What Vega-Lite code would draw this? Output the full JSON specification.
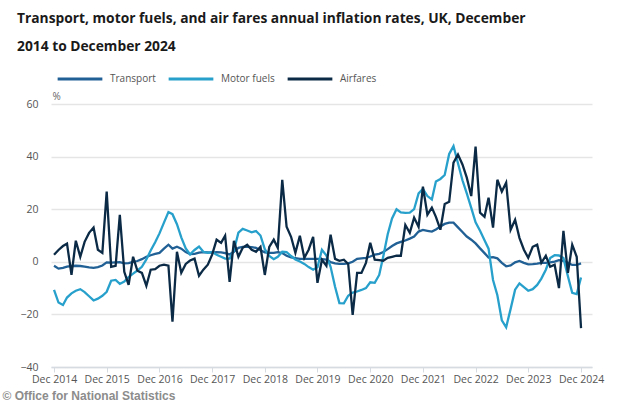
{
  "$schema": "https://vega.github.io/schema/vega-lite/v6.json",
  "width": 541,
  "height": 263,
  "autosize": {"type": "none"},
  "padding": {"left": 51, "top": 104, "right": 42, "bottom": 36},
  "background": "white",
  "config": {"font": "Open Sans", "view": {"stroke": null}},
  "title": {
    "text": ["Transport, motor fuels, and air fares annual inflation rates, UK, December", "2014 to December 2024"],
    "anchor": "start",
    "frame": "group",
    "dx": -34,
    "dy": 9,
    "font": "Open Sans",
    "fontSize": 13.8,
    "fontWeight": "bold",
    "color": "#1a1a1a",
    "lineHeight": 28,
    "baseline": "top",
    "offset": 10
  },
  "data": {
    "values": [
      {"date": "2014-12-01", "Transport": -1.5, "Motor fuels": -10.7, "Airfares": 2.7},
      {"date": "2015-01-01", "Transport": -2.6, "Motor fuels": -15.5, "Airfares": 4.5},
      {"date": "2015-02-01", "Transport": -2.3, "Motor fuels": -16.4, "Airfares": 6},
      {"date": "2015-03-01", "Transport": -1.8, "Motor fuels": -13.6, "Airfares": 6.9},
      {"date": "2015-04-01", "Transport": -1.6, "Motor fuels": -12, "Airfares": -5},
      {"date": "2015-05-01", "Transport": -1.5, "Motor fuels": -11, "Airfares": 8},
      {"date": "2015-06-01", "Transport": -1.6, "Motor fuels": -10.4, "Airfares": 1.9},
      {"date": "2015-07-01", "Transport": -1.8, "Motor fuels": -11.5, "Airfares": 7.6},
      {"date": "2015-08-01", "Transport": -2.1, "Motor fuels": -13.1, "Airfares": 11},
      {"date": "2015-09-01", "Transport": -2.3, "Motor fuels": -14.7, "Airfares": 13},
      {"date": "2015-10-01", "Transport": -2, "Motor fuels": -14, "Airfares": 4.6},
      {"date": "2015-11-01", "Transport": -1.4, "Motor fuels": -12.9, "Airfares": 3.4},
      {"date": "2015-12-01", "Transport": -0.2, "Motor fuels": -11.4, "Airfares": 26.7},
      {"date": "2016-01-01", "Transport": -0.3, "Motor fuels": -7.2, "Airfares": -1.9},
      {"date": "2016-02-01", "Transport": -0.2, "Motor fuels": -6.9, "Airfares": -1.5},
      {"date": "2016-03-01", "Transport": -0.1, "Motor fuels": -8.4, "Airfares": 17.9},
      {"date": "2016-04-01", "Transport": -0.6, "Motor fuels": -7.5, "Airfares": -3.8},
      {"date": "2016-05-01", "Transport": -0.5, "Motor fuels": -5.8, "Airfares": -8.8},
      {"date": "2016-06-01", "Transport": 0, "Motor fuels": -4.5, "Airfares": 1.9},
      {"date": "2016-07-01", "Transport": 0.3, "Motor fuels": -3.3, "Airfares": -3.4},
      {"date": "2016-08-01", "Transport": 1, "Motor fuels": -1.9, "Airfares": -4.2},
      {"date": "2016-09-01", "Transport": 1.9, "Motor fuels": 0.9, "Airfares": -9.1},
      {"date": "2016-10-01", "Transport": 2.5, "Motor fuels": 4.3, "Airfares": -3},
      {"date": "2016-11-01", "Transport": 3, "Motor fuels": 7.4, "Airfares": -2.8},
      {"date": "2016-12-01", "Transport": 3.4, "Motor fuels": 10.8, "Airfares": -1.5},
      {"date": "2017-01-01", "Transport": 5, "Motor fuels": 14.9, "Airfares": -1.1},
      {"date": "2017-02-01", "Transport": 6.5, "Motor fuels": 18.9, "Airfares": -1.5},
      {"date": "2017-03-01", "Transport": 5, "Motor fuels": 18.1, "Airfares": -22.8},
      {"date": "2017-04-01", "Transport": 5.7, "Motor fuels": 14.3, "Airfares": 3.8},
      {"date": "2017-05-01", "Transport": 5, "Motor fuels": 9.3, "Airfares": -4.2},
      {"date": "2017-06-01", "Transport": 3.7, "Motor fuels": 5.1, "Airfares": -0.8},
      {"date": "2017-07-01", "Transport": 2.9, "Motor fuels": 2.8, "Airfares": 0.5},
      {"date": "2017-08-01", "Transport": 3, "Motor fuels": 4.5, "Airfares": 1.2},
      {"date": "2017-09-01", "Transport": 3.5, "Motor fuels": 5.8, "Airfares": -5.3},
      {"date": "2017-10-01", "Transport": 3.7, "Motor fuels": 3.8, "Airfares": -3},
      {"date": "2017-11-01", "Transport": 3.6, "Motor fuels": 3.4, "Airfares": -1.1},
      {"date": "2017-12-01", "Transport": 3.5, "Motor fuels": 3.7, "Airfares": 2.7},
      {"date": "2018-01-01", "Transport": 3.7, "Motor fuels": 2.7, "Airfares": 8.4},
      {"date": "2018-02-01", "Transport": 3.6, "Motor fuels": 1.9, "Airfares": 7.2},
      {"date": "2018-03-01", "Transport": 3.3, "Motor fuels": 1.2, "Airfares": 9.9},
      {"date": "2018-04-01", "Transport": 2.8, "Motor fuels": 1.2, "Airfares": -7.6},
      {"date": "2018-05-01", "Transport": 3.8, "Motor fuels": 4.4, "Airfares": 8},
      {"date": "2018-06-01", "Transport": 5.3, "Motor fuels": 11.1, "Airfares": 1.9},
      {"date": "2018-07-01", "Transport": 5.7, "Motor fuels": 12.5, "Airfares": 5.3},
      {"date": "2018-08-01", "Transport": 5.7, "Motor fuels": 11.9, "Airfares": 6.5},
      {"date": "2018-09-01", "Transport": 5.6, "Motor fuels": 11.2, "Airfares": 4.6},
      {"date": "2018-10-01", "Transport": 5.3, "Motor fuels": 11.7, "Airfares": 3.8},
      {"date": "2018-11-01", "Transport": 4.4, "Motor fuels": 10, "Airfares": 5.7},
      {"date": "2018-12-01", "Transport": 3.6, "Motor fuels": 4.8, "Airfares": -5},
      {"date": "2019-01-01", "Transport": 3.4, "Motor fuels": 2.2, "Airfares": 5.7},
      {"date": "2019-02-01", "Transport": 3.4, "Motor fuels": 1, "Airfares": 8.4},
      {"date": "2019-03-01", "Transport": 3.7, "Motor fuels": 1.9, "Airfares": 5.3},
      {"date": "2019-04-01", "Transport": 3.3, "Motor fuels": 3.8, "Airfares": 31.2},
      {"date": "2019-05-01", "Transport": 2.3, "Motor fuels": 3.7, "Airfares": 13.3},
      {"date": "2019-06-01", "Transport": 1.7, "Motor fuels": 2.2, "Airfares": 9.5},
      {"date": "2019-07-01", "Transport": 1.4, "Motor fuels": 0.9, "Airfares": 3.4},
      {"date": "2019-08-01", "Transport": 1.1, "Motor fuels": 0.1, "Airfares": 9.9},
      {"date": "2019-09-01", "Transport": 1.1, "Motor fuels": -0.8, "Airfares": 1.5},
      {"date": "2019-10-01", "Transport": 1.1, "Motor fuels": -2, "Airfares": 4.6},
      {"date": "2019-11-01", "Transport": 1.1, "Motor fuels": -3, "Airfares": 9.5},
      {"date": "2019-12-01", "Transport": 1.1, "Motor fuels": -2.1, "Airfares": -8},
      {"date": "2020-01-01", "Transport": 1, "Motor fuels": 4.6, "Airfares": 0.8},
      {"date": "2020-02-01", "Transport": 0.8, "Motor fuels": 2.4, "Airfares": -1.5},
      {"date": "2020-03-01", "Transport": -0.1, "Motor fuels": -1.9, "Airfares": 10.3},
      {"date": "2020-04-01", "Transport": -0.6, "Motor fuels": -9.5, "Airfares": 1.1},
      {"date": "2020-05-01", "Transport": -0.8, "Motor fuels": -15.7, "Airfares": 0.4},
      {"date": "2020-06-01", "Transport": -0.8, "Motor fuels": -15.8, "Airfares": 0.8},
      {"date": "2020-07-01", "Transport": -0.6, "Motor fuels": -12.9, "Airfares": -0.8},
      {"date": "2020-08-01", "Transport": 0, "Motor fuels": -11.7, "Airfares": -20.2},
      {"date": "2020-09-01", "Transport": 1.1, "Motor fuels": -11.3, "Airfares": -4.2},
      {"date": "2020-10-01", "Transport": 1.3, "Motor fuels": -10.7, "Airfares": -4.2},
      {"date": "2020-11-01", "Transport": 1.5, "Motor fuels": -10, "Airfares": -0.4},
      {"date": "2020-12-01", "Transport": 2, "Motor fuels": -7.8, "Airfares": 7.2},
      {"date": "2021-01-01", "Transport": 2.7, "Motor fuels": -8, "Airfares": 0.8},
      {"date": "2021-02-01", "Transport": 3, "Motor fuels": -5, "Airfares": 0.6},
      {"date": "2021-03-01", "Transport": 3.7, "Motor fuels": 2, "Airfares": 0.4},
      {"date": "2021-04-01", "Transport": 4.8, "Motor fuels": 10.5, "Airfares": 1.5},
      {"date": "2021-05-01", "Transport": 6, "Motor fuels": 16.5, "Airfares": 1.9},
      {"date": "2021-06-01", "Transport": 7, "Motor fuels": 20, "Airfares": 2.3},
      {"date": "2021-07-01", "Transport": 7.6, "Motor fuels": 18.8, "Airfares": 2.3},
      {"date": "2021-08-01", "Transport": 8.1, "Motor fuels": 18.6, "Airfares": 14},
      {"date": "2021-09-01", "Transport": 8.8, "Motor fuels": 18.7, "Airfares": 11},
      {"date": "2021-10-01", "Transport": 9.6, "Motor fuels": 20, "Airfares": 16.8},
      {"date": "2021-11-01", "Transport": 11.5, "Motor fuels": 26, "Airfares": 13.3},
      {"date": "2021-12-01", "Transport": 12.1, "Motor fuels": 27.7, "Airfares": 28.6},
      {"date": "2022-01-01", "Transport": 11.8, "Motor fuels": 25, "Airfares": 17.9},
      {"date": "2022-02-01", "Transport": 11.5, "Motor fuels": 23.7, "Airfares": 20.6},
      {"date": "2022-03-01", "Transport": 12.3, "Motor fuels": 30.5, "Airfares": 17.1},
      {"date": "2022-04-01", "Transport": 13.4, "Motor fuels": 31.5, "Airfares": 12.2},
      {"date": "2022-05-01", "Transport": 14.4, "Motor fuels": 33, "Airfares": 22},
      {"date": "2022-06-01", "Transport": 14.9, "Motor fuels": 41, "Airfares": 22.8},
      {"date": "2022-07-01", "Transport": 14.9, "Motor fuels": 44, "Airfares": 37.7},
      {"date": "2022-08-01", "Transport": 13.1, "Motor fuels": 37.5, "Airfares": 40.8},
      {"date": "2022-09-01", "Transport": 11.3, "Motor fuels": 31, "Airfares": 37},
      {"date": "2022-10-01", "Transport": 9.6, "Motor fuels": 26, "Airfares": 32},
      {"date": "2022-11-01", "Transport": 8.4, "Motor fuels": 20.5, "Airfares": 25},
      {"date": "2022-12-01", "Transport": 7, "Motor fuels": 15, "Airfares": 43.8},
      {"date": "2023-01-01", "Transport": 5.1, "Motor fuels": 11.8, "Airfares": 18.7},
      {"date": "2023-02-01", "Transport": 3.3, "Motor fuels": 8.2, "Airfares": 17.1},
      {"date": "2023-03-01", "Transport": 1.6, "Motor fuels": 5, "Airfares": 24.4},
      {"date": "2023-04-01", "Transport": 1.8, "Motor fuels": -6.9, "Airfares": 13},
      {"date": "2023-05-01", "Transport": 1.3, "Motor fuels": -12.7, "Airfares": 31.2},
      {"date": "2023-06-01", "Transport": -0.4, "Motor fuels": -22.3, "Airfares": 26.7},
      {"date": "2023-07-01", "Transport": -1.7, "Motor fuels": -24.9, "Airfares": 30.1},
      {"date": "2023-08-01", "Transport": -1.4, "Motor fuels": -17.9, "Airfares": 12.2},
      {"date": "2023-09-01", "Transport": -0.2, "Motor fuels": -10.6, "Airfares": 16},
      {"date": "2023-10-01", "Transport": 0.3, "Motor fuels": -8.2, "Airfares": 9.1},
      {"date": "2023-11-01", "Transport": -0.4, "Motor fuels": -9.6, "Airfares": 4.6},
      {"date": "2023-12-01", "Transport": -1, "Motor fuels": -11, "Airfares": 1.5},
      {"date": "2024-01-01", "Transport": -0.9, "Motor fuels": -10.4, "Airfares": 5.7},
      {"date": "2024-02-01", "Transport": -0.7, "Motor fuels": -8.8, "Airfares": 6.5},
      {"date": "2024-03-01", "Transport": -0.4, "Motor fuels": -6.4, "Airfares": -0.4},
      {"date": "2024-04-01", "Transport": -0.4, "Motor fuels": -3, "Airfares": 2.3},
      {"date": "2024-05-01", "Transport": -0.2, "Motor fuels": 1.4, "Airfares": -1.9},
      {"date": "2024-06-01", "Transport": 0.1, "Motor fuels": 2.5, "Airfares": -1.1},
      {"date": "2024-07-01", "Transport": 0.6, "Motor fuels": 2.4, "Airfares": -10},
      {"date": "2024-08-01", "Transport": 0.4, "Motor fuels": 1.4, "Airfares": 11.8},
      {"date": "2024-09-01", "Transport": -0.4, "Motor fuels": -5.5, "Airfares": -4.2},
      {"date": "2024-10-01", "Transport": -1.2, "Motor fuels": -11.8, "Airfares": 6.5},
      {"date": "2024-11-01", "Transport": -1.2, "Motor fuels": -12.3, "Airfares": 1.9},
      {"date": "2024-12-01", "Transport": -0.6, "Motor fuels": -6, "Airfares": -25.2}
    ]
  },
  "transform": [
    {"fold": ["Transport", "Motor fuels", "Airfares"], "as": ["series", "value"]}
  ],
  "mark": {"type": "line", "strokeWidth": 2.3, "strokeJoin": "miter", "clip": false},
  "encoding": {
    "x": {
      "field": "date",
      "type": "temporal",
      "scale": {"type": "utc", "domain": [{"year": 2014, "month": 11, "date": 10, "utc": true}, {"year": 2025, "month": 2, "date": 15, "utc": true}]},
      "axis": {
        "values": [
          {"year": 2014, "month": 12, "date": 1, "utc": true},
          {"year": 2015, "month": 12, "date": 1, "utc": true},
          {"year": 2016, "month": 12, "date": 1, "utc": true},
          {"year": 2017, "month": 12, "date": 1, "utc": true},
          {"year": 2018, "month": 12, "date": 1, "utc": true},
          {"year": 2019, "month": 12, "date": 1, "utc": true},
          {"year": 2020, "month": 12, "date": 1, "utc": true},
          {"year": 2021, "month": 12, "date": 1, "utc": true},
          {"year": 2022, "month": 12, "date": 1, "utc": true},
          {"year": 2023, "month": 12, "date": 1, "utc": true},
          {"year": 2024, "month": 12, "date": 1, "utc": true}
        ],
        "format": "%b %Y",
        "grid": false,
        "domainColor": "#d6dbe1",
        "domainWidth": 1.5,
        "tickColor": "#d6dbe1",
        "tickSize": 5,
        "labelFontSize": 10.5,
        "labelColor": "#555555",
        "labelPadding": 2,
        "labelFlush": false,
        "labelOverlap": false,
        "title": "© Office for National Statistics",
        "titleFont": "Liberation Sans",
        "titleFontSize": 12,
        "titleFontWeight": "bold",
        "titleColor": "#8c8c8c",
        "titleAnchor": "start",
        "titleAlign": "left",
        "titleBaseline": "alphabetic",
        "titleX": -49,
        "titleY": 32
      }
    },
    "y": {
      "field": "value",
      "type": "quantitative",
      "scale": {"domain": [-40, 60], "nice": false, "zero": false},
      "axis": {
        "values": [-40, -20, 0, 20, 40, 60],
        "grid": true,
        "gridColor": "#e5e5e5",
        "gridWidth": 1.5,
        "domain": false,
        "ticks": false,
        "labelPadding": 13,
        "labelFontSize": 10.5,
        "labelColor": "#555555",
        "title": "%",
        "titleAngle": 0,
        "titleAlign": "left",
        "titleBaseline": "bottom",
        "titleX": 1,
        "titleY": -3,
        "titleFontSize": 10,
        "titleFontWeight": "normal",
        "titleColor": "#666666"
      }
    },
    "color": {
      "field": "series",
      "type": "nominal",
      "sort": ["Transport", "Motor fuels", "Airfares"],
      "scale": {"domain": ["Transport", "Motor fuels", "Airfares"], "range": ["#206095", "#27a0cc", "#0b2a45"]},
      "legend": {
        "orient": "none",
        "legendX": 5,
        "legendY": -49,
        "direction": "horizontal",
        "title": null,
        "symbolType": "stroke",
        "symbolSize": 2000,
        "symbolStrokeWidth": 3,
        "labelFontSize": 10,
        "labelColor": "#555555",
        "labelOffset": 6,
        "columnPadding": 6
      }
    }
  }
}
